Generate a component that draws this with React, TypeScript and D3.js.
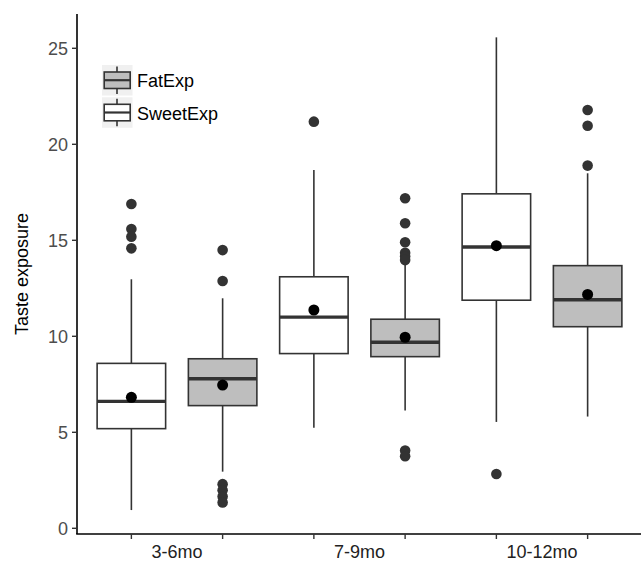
import React from "react";
import * as d3 from "d3";

const categories = ["3-6mo", "7-9mo", "10-12mo"];
const seriesNames = ["SweetExp", "FatExp"];
const legendOrder = ["FatExp", "SweetExp"];
const yTicks = [0, 5, 10, 15, 20, 25];

// per category: [whiskerLow, q1, median, q3, whiskerHigh]
const sweetStats = [
  [0.95, 5.19, 6.61, 8.59, 12.97],
  [5.24, 9.1, 11.0, 13.1, 18.66],
  [5.54, 11.88, 14.65, 17.42, 25.57],
];
const sweetMeans = [6.82, 11.37, 14.72];
const sweetOutliers = [
  [16.89, 15.59, 15.19, 14.58],
  [21.18],
  [2.83],
];

const fatStats = [
  [2.95, 6.39, 7.79, 8.83, 11.98],
  [6.13, 8.94, 9.69, 10.89, 13.71],
  [5.82, 10.5, 11.9, 13.68, 18.49],
];
const fatMeans = [7.46, 9.95, 12.18];
const fatOutliers = [
  [14.49, 12.88, 2.3, 1.98, 1.65, 1.35],
  [17.19, 15.89, 14.9, 14.35, 14.15, 13.97, 4.05, 3.75],
  [21.79, 20.97, 18.89],
];

const FILLS: Record<string, string> = { SweetExp: "#ffffff", FatExp: "#bebebe" };
const STROKE = "#333333";
const FONT = "'Liberation Sans', Arial, sans-serif";

export default function App() {
  const W = 641;
  const H = 563;
  const axisX = 77;
  const axisY = 534;
  const x = d3.scaleLinear().domain([0, 2]).range([177, 542]);
  const dodge = 0.25; // in category units
  const boxW = 68.5;
  const y = d3.scaleLinear().domain([0, 25]).range([528.3, 48.3]);

  const series = [
    { name: seriesNames[0], stats: sweetStats, means: sweetMeans, outliers: sweetOutliers, off: -dodge },
    { name: seriesNames[1], stats: fatStats, means: fatMeans, outliers: fatOutliers, off: dodge },
  ];

  const boxCenters: number[] = [];
  categories.forEach((_, i) => {
    series.forEach((s) => boxCenters.push(x(i + s.off)));
  });

  return (
    <svg width={W} height={H} style={{ position: "absolute", left: 0, top: 0, background: "#fff" }} fontFamily={FONT}>
      <rect x={0} y={0} width={W} height={H} fill="#ffffff" />
      {/* boxes */}
      {categories.map((c, i) =>
        series.map((s) => {
          const cx = x(i + s.off);
          const [lo, q1, med, q3, hi] = s.stats[i];
          return (
            <g key={c + s.name}>
              <line x1={cx} x2={cx} y1={y(hi)} y2={y(q3)} stroke={STROKE} strokeWidth={1.6} />
              <line x1={cx} x2={cx} y1={y(q1)} y2={y(lo)} stroke={STROKE} strokeWidth={1.6} />
              <rect
                x={cx - boxW / 2}
                y={y(q3)}
                width={boxW}
                height={y(q1) - y(q3)}
                fill={FILLS[s.name]}
                stroke={STROKE}
                strokeWidth={1.6}
              />
              <line x1={cx - boxW / 2} x2={cx + boxW / 2} y1={y(med)} y2={y(med)} stroke={STROKE} strokeWidth={3.4} />
              {s.outliers[i].map((v, k) => (
                <circle key={k} cx={cx} cy={y(v)} r={5.3} fill={STROKE} />
              ))}
              <circle cx={cx} cy={y(s.means[i])} r={5.5} fill="#000000" />
            </g>
          );
        })
      )}
      {/* axes */}
      <line x1={axisX} x2={axisX} y1={14} y2={axisY} stroke="#000" strokeWidth={1.6} />
      <line x1={axisX - 0.8} x2={W} y1={axisY} y2={axisY} stroke="#000" strokeWidth={1.6} />
      {yTicks.map((t) => (
        <g key={t}>
          <line x1={axisX - 5} x2={axisX} y1={y(t)} y2={y(t)} stroke={STROKE} strokeWidth={1.4} />
          <text x={axisX - 9} y={y(t)} dy="0.35em" textAnchor="end" fontSize={18} fill="#4d4d4d">
            {t}
          </text>
        </g>
      ))}
      {boxCenters.map((bx, k) => (
        <line key={k} x1={bx} x2={bx} y1={axisY} y2={axisY + 5} stroke={STROKE} strokeWidth={1.4} />
      ))}
      {categories.map((c, i) => (
        <text key={c} x={x(i)} y={558} textAnchor="middle" fontSize={18} fill="#222">
          {c}
        </text>
      ))}
      <text
        transform={`translate(28,${(14 + axisY) / 2}) rotate(-90)`}
        textAnchor="middle"
        fontSize={18}
        fill="#000"
      >
        Taste exposure
      </text>
      {/* legend */}
      {legendOrder.map((name, k) => {
        const ky = 65 + k * 32.3;
        const kx = 102;
        const cx = kx + 15;
        return (
          <g key={name}>
            <rect x={kx} y={ky} width={30.5} height={30.5} fill="#f0f0f0" />
            <line x1={cx} x2={cx} y1={ky + 1.5} y2={ky + 29} stroke={STROKE} strokeWidth={1.6} />
            <rect x={kx + 2.2} y={ky + 7} width={26} height={16.5} fill={FILLS[name]} stroke={STROKE} strokeWidth={1.6} />
            <line x1={kx + 2.2} x2={kx + 28.2} y1={ky + 15.2} y2={ky + 15.2} stroke={STROKE} strokeWidth={2.2} />
            <text x={137} y={ky + 16} dy="0.35em" fontSize={18} fill="#000">
              {name}
            </text>
          </g>
        );
      })}
    </svg>
  );
}
